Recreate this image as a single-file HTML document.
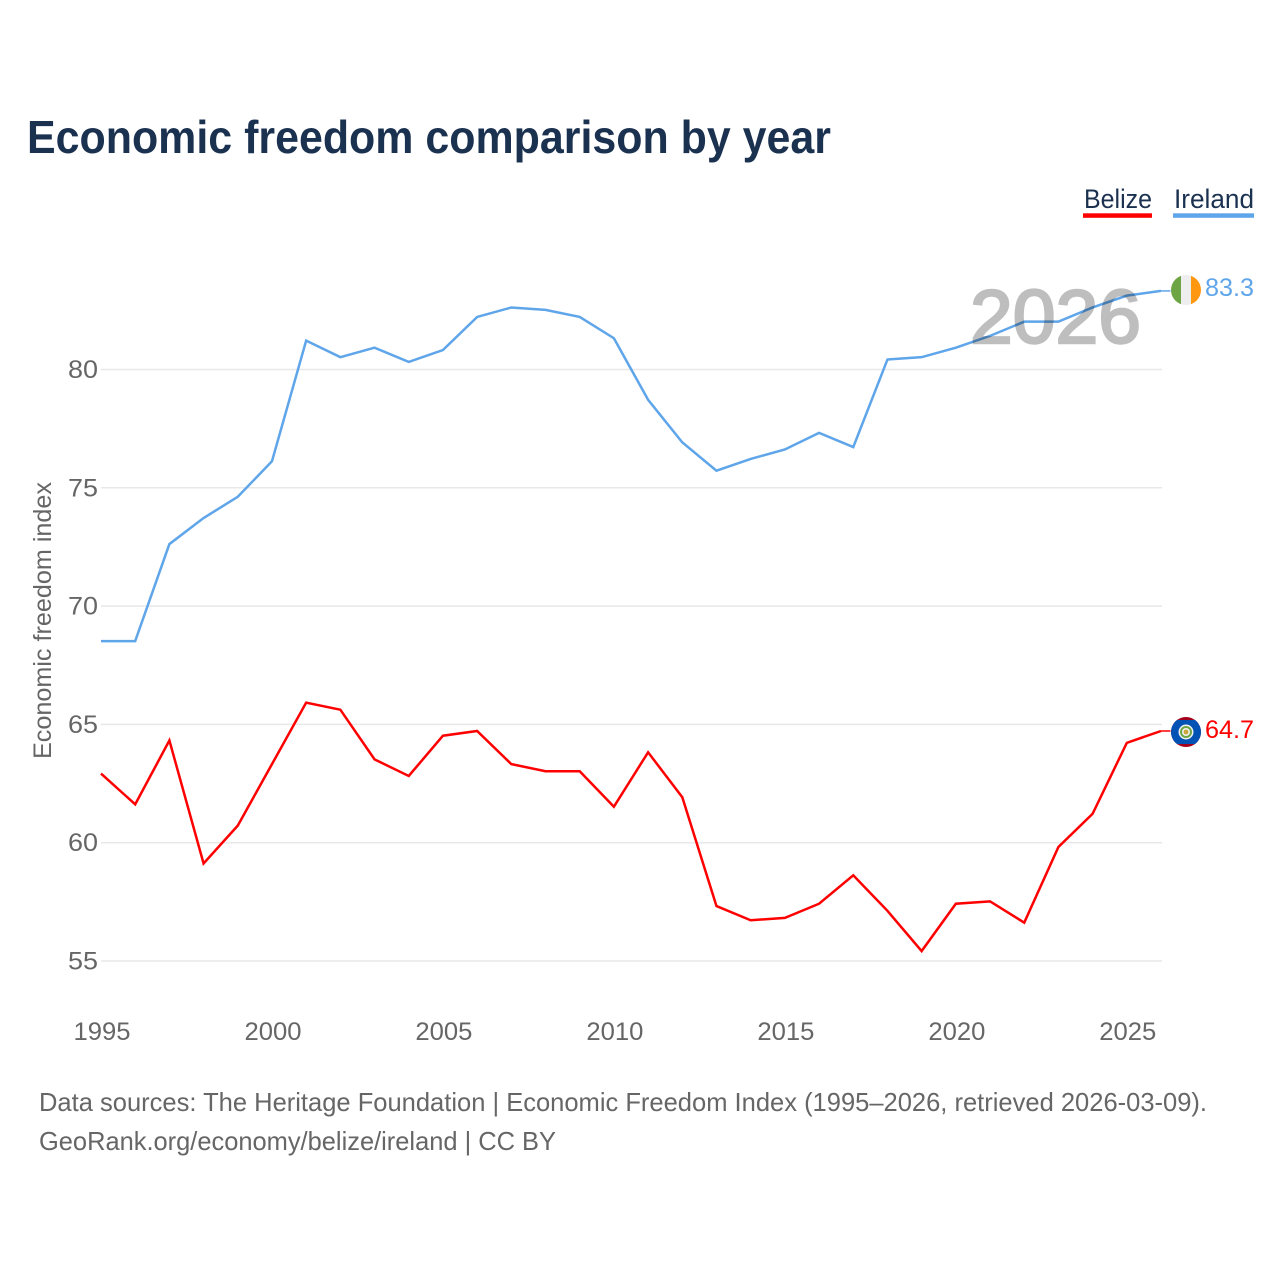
<!DOCTYPE html>
<html lang="en">
<head>
<meta charset="utf-8">
<title>Economic freedom comparison by year</title>
<style>
html,body{margin:0;padding:0;background:#fff;width:1280px;height:1280px;overflow:hidden}
svg{display:block}
text{font-family:"Liberation Sans",sans-serif}
</style>
</head>
<body>
<svg id="chart" xmlns="http://www.w3.org/2000/svg" width="1280" height="1280" viewBox="0 0 1280 1280">
  <defs>
    <clipPath id="ie-clip"><circle cx="1186" cy="290" r="15"/></clipPath>
    <clipPath id="bz-clip"><circle cx="1186" cy="732" r="15"/></clipPath>
  </defs>
  <rect width="1280" height="1280" fill="#fff"/>
  <text x="27" y="153" font-size="46" font-weight="700" fill="#1b3150" textLength="804" lengthAdjust="spacingAndGlyphs">Economic freedom comparison by year</text>

  <g>
    <g>
      <text x="1084" y="208" font-size="27" fill="#1b3150" textLength="68" lengthAdjust="spacingAndGlyphs">Belize</text>
      <rect x="1083" y="213.3" width="69" height="4.5" fill="#ff0000"/>
    </g>
    <g>
      <text x="1174" y="208" font-size="27" fill="#1b3150" textLength="80" lengthAdjust="spacingAndGlyphs">Ireland</text>
      <rect x="1173" y="213.3" width="81" height="4.5" fill="#5fa5ea"/>
    </g>
  </g>

  <g id="grid"></g>
  <g id="yticks"></g>
  <g id="xticks"></g>

  <text transform="translate(51,759) rotate(-90)" font-size="25" fill="#666" textLength="277" lengthAdjust="spacingAndGlyphs">Economic freedom index</text>

  <g id="series" transform="translate(-0.5,-0.5)"></g>

  <text x="970" y="343" font-size="76" fill="#000" stroke="#000" stroke-width="2.4" opacity="0.25" textLength="171" lengthAdjust="spacingAndGlyphs">2026</text>

  <g clip-path="url(#ie-clip)">
    <rect x="1171" y="275" width="10" height="30" fill="#6da544"/>
    <rect x="1181" y="275" width="10" height="30" fill="#eeeeee"/>
    <rect x="1191" y="275" width="10" height="30" fill="#ff9811"/>
  </g>
  <text x="1205" y="296" font-size="25" fill="#5fa5ea" textLength="49" lengthAdjust="spacingAndGlyphs">83.3</text>

  <g clip-path="url(#bz-clip)">
    <rect x="1171" y="717" width="30" height="30" fill="#a2001d"/>
    <rect x="1171" y="720" width="30" height="24" fill="#0052b4"/>
    <circle cx="1186" cy="732" r="7.5" fill="#f0f0f0"/>
    <circle cx="1186" cy="732" r="6" fill="#6da544"/>
    <circle cx="1186" cy="732" r="4" fill="#f0f0f0"/>
    <circle cx="1186" cy="732" r="2.4" fill="#c9a53a"/>
  </g>
  <text x="1205" y="738" font-size="25" fill="#ff0000" textLength="49" lengthAdjust="spacingAndGlyphs">64.7</text>

  <text x="39" y="1111" font-size="26" fill="#666" textLength="1168" lengthAdjust="spacingAndGlyphs">Data sources: The Heritage Foundation | Economic Freedom Index (1995–2026, retrieved 2026-03-09).</text>
  <text x="39" y="1150" font-size="26" fill="#666" textLength="517" lengthAdjust="spacingAndGlyphs">GeoRank.org/economy/belize/ireland | CC BY</text>
</svg>
<script>
const years = [1995,1996,1997,1998,1999,2000,2001,2002,2003,2004,2005,2006,2007,2008,2009,2010,2011,2012,2013,2014,2015,2016,2017,2018,2019,2020,2021,2022,2023,2024,2025,2026];
const irelandValues = [68.5,68.5,72.6,73.7,74.6,76.1,81.2,80.5,80.9,80.3,80.8,82.2,82.6,82.5,82.2,81.3,78.7,76.9,75.7,76.2,76.6,77.3,76.7,80.4,80.5,80.9,81.4,82.0,82.0,82.6,83.1,83.3];
const belizeValues = [62.9,61.6,64.3,59.1,60.7,63.3,65.9,65.6,63.5,62.8,64.5,64.7,63.3,63.0,63.0,61.5,63.8,61.9,57.3,56.7,56.8,57.4,58.6,57.1,55.4,57.4,57.5,56.6,59.8,61.2,64.2,64.7];
const yTickLabels = [55,60,65,70,75,80];
const xTickLabels = [1995,2000,2005,2010,2015,2020,2025];

const NS = 'http://www.w3.org/2000/svg';
function xScale(year){ return 101.5 + (year - 1995) * (1060 / 31); }
function yScale(value){ return 961 - (value - 55) * (591.5 / 25); }
function make(tag, attrs, parent){
  const el = document.createElementNS(NS, tag);
  for (const k in attrs) el.setAttribute(k, attrs[k]);
  parent.appendChild(el);
  return el;
}

const grid = document.getElementById('grid');
const yticks = document.getElementById('yticks');
const xticks = document.getElementById('xticks');
const series = document.getElementById('series');

yTickLabels.forEach(function(v){
  const line = make('line', {x1:101, x2:1162, y1:yScale(v), y2:yScale(v), stroke:'#e8e8e8', 'stroke-width':1.5}, grid);
  
  
  const t = make('text', {x:68, y:yScale(v) + 8.5, 'font-size':25, fill:'#666', textLength:30, lengthAdjust:'spacingAndGlyphs'}, yticks);
  t.textContent = String(v);
  
  
});

xTickLabels.forEach(function(y){
  const t = make('text', {x:xScale(y) - 28, y:1040, 'font-size':25, fill:'#666', textLength:57, lengthAdjust:'spacingAndGlyphs'}, xticks);
  t.textContent = String(y);
  
  
});

function drawLine(values, color, name){
  const pts = values.map(function(v, i){ return xScale(years[i]).toFixed(2) + ',' + yScale(v).toFixed(2); });
  const p = make('polyline', {points:pts.join(' '), fill:'none', stroke:color, 'stroke-width':2.5, 'stroke-linejoin':'miter'}, series);
  
  
  const lastIndex = values.length - 1;
  const endY = yScale(values[lastIndex]);
  const stub = make('line', {x1:xScale(years[lastIndex]), x2:1171, y1:endY, y2:endY, stroke:color, 'stroke-width':1.5}, series);
  
  
}
drawLine(belizeValues, '#ff0000', 'belize-line');
drawLine(irelandValues, '#5fa5ea', 'ireland-line');
</script>
</body>
</html>
